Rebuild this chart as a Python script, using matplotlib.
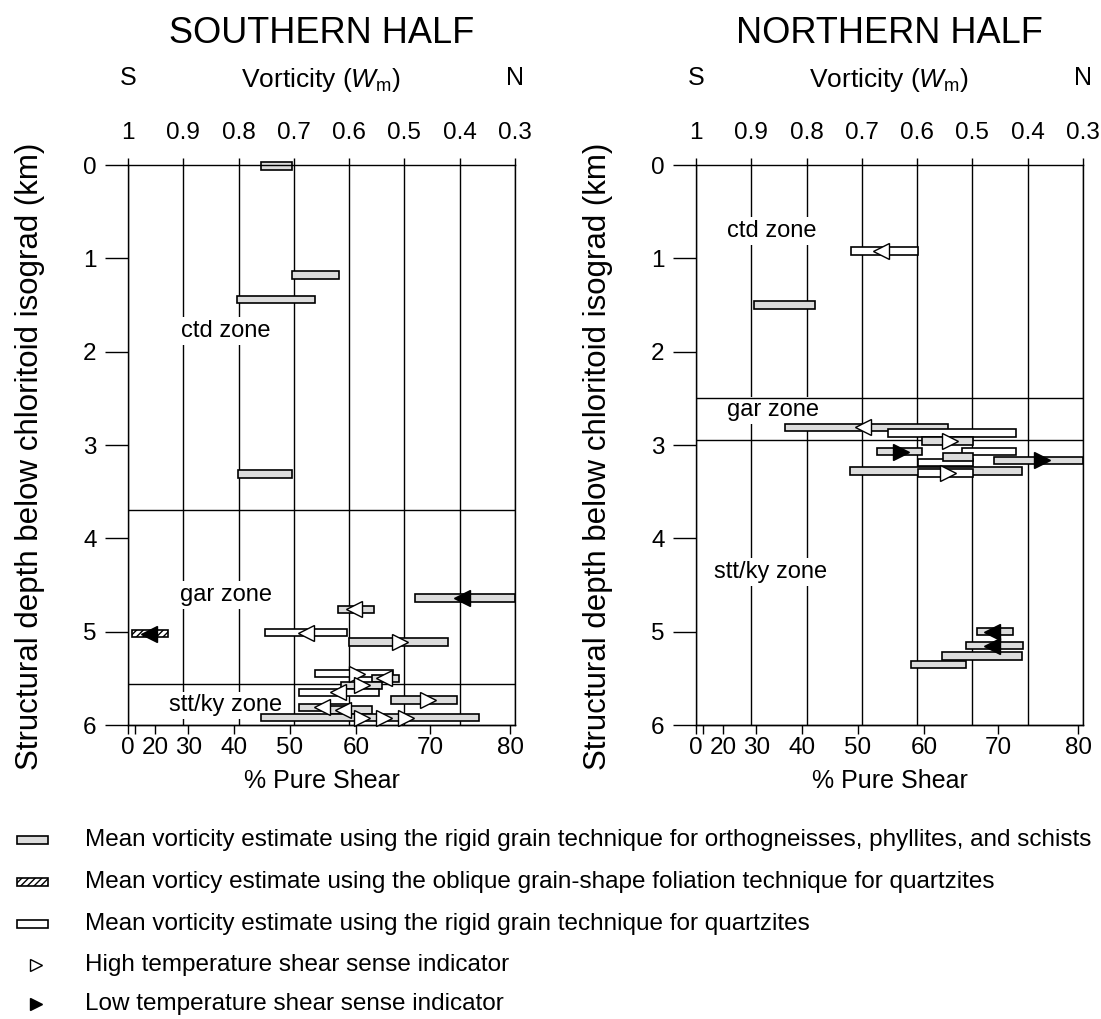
import matplotlib
matplotlib.use('Agg')
import matplotlib.pyplot as plt
import numpy as np

plt.rcParams['font.family'] = ['Liberation Sans', 'DejaVu Sans']
plt.rcParams['mathtext.fontset'] = 'custom'
plt.rcParams['mathtext.rm'] = 'Liberation Sans'
plt.rcParams['mathtext.it'] = 'Liberation Sans:italic'
plt.rcParams['hatch.linewidth'] = 1.0

# axis ticks
wm_ticks = [1, 0.9, 0.8, 0.7, 0.6, 0.5, 0.4, 0.3]
wm_labels = ['1', '0.9', '0.8', '0.7', '0.6', '0.5', '0.4', '0.3']
ps_ticks = [0, 10, 20, 30, 40, 50, 60, 70, 80]
ps_labels = ['0', '', '20', '30', '40', '50', '60', '70', '80']
depth_ticks = [0, 1, 2, 3, 4, 5, 6]

# southern half: bars (Wm range, depth km, kind g=grey h=hatched w=white)
s_wm_a = [0.760, 0.703, 0.802, 0.801, 0.481, 0.621, 0.993, 0.752, 0.600,
          0.662, 0.559, 0.615, 0.691, 0.524, 0.691, 0.638, 0.759]
s_wm_b = [0.703, 0.619, 0.662, 0.703, 0.300, 0.555, 0.927, 0.603, 0.422,
          0.520, 0.510, 0.540, 0.546, 0.405, 0.598, 0.559, 0.365]
s_depth = [0.01, 1.18, 1.44, 3.31, 4.64, 4.76, 5.02, 5.01, 5.11,
           5.45, 5.50, 5.575, 5.65, 5.73, 5.81, 5.84, 5.92]
s_kind = ['g', 'g', 'g', 'g', 'g', 'g', 'h', 'w', 'g',
          'w', 'g', 'g', 'w', 'g', 'g', 'g', 'g']
# southern half: shear sense arrows
sa_wm = [0.395, 0.591, 0.962, 0.678, 0.5075, 0.585, 0.5375, 0.576, 0.621,
         0.458, 0.649, 0.612, 0.576, 0.537, 0.4975]
sa_depth = [4.64, 4.76, 5.02, 5.01, 5.11, 5.45, 5.50, 5.575, 5.65,
            5.73, 5.81, 5.84, 5.92, 5.92, 5.92]
sa_dir = ['<', '<', '<', '<', '>', '>', '<', '>', '<', '>', '<', '<', '>', '>', '>']
sa_fill = ['k', 'w', 'k', 'w', 'w', 'w', 'w', 'w', 'w', 'w', 'w', 'w', 'w', 'w', 'w']
s_bounds = [3.7, 5.56]
s_zones = ['ctd zone', 'gar zone', 'stt/ky zone']
s_zone_wm = [0.823, 0.822, 0.823]
s_zone_depth = [1.78, 4.61, 5.79]

# northern half
n_wm_a = [0.719, 0.895, 0.839, 0.653, 0.592, 0.673, 0.519, 0.599, 0.553,
          0.461, 0.721, 0.599, 0.492, 0.512, 0.5545, 0.612]
n_wm_b = [0.599, 0.784, 0.545, 0.421, 0.4995, 0.592, 0.421, 0.4995, 0.4995,
          0.300, 0.411, 0.4995, 0.426, 0.409, 0.411, 0.512]
n_depth = [0.92, 1.50, 2.81, 2.87, 2.955, 3.07, 3.07, 3.19, 3.13,
           3.165, 3.28, 3.30, 5.00, 5.15, 5.26, 5.35]
n_kind = ['w', 'g', 'g', 'w', 'g', 'g', 'w', 'w', 'g',
          'g', 'g', 'w', 'g', 'g', 'g', 'g']
na_wm = [0.665, 0.698, 0.541, 0.629, 0.374, 0.545, 0.464, 0.464]
na_depth = [0.92, 2.81, 2.955, 3.075, 3.165, 3.30, 5.00, 5.15]
na_dir = ['<', '<', '>', '>', '>', '>', '<', '<']
na_fill = ['w', 'w', 'w', 'k', 'k', 'w', 'k', 'k']
n_bounds = [2.5, 2.95]
n_zones = ['ctd zone', 'gar zone', 'stt/ky zone']
n_zone_wm = [0.8625, 0.861, 0.866]
n_zone_depth = [0.71, 2.63, 4.36]

legend_labels = [
    'Mean vorticity estimate using the rigid grain technique for orthogneisses, phyllites, and schists',
    'Mean vorticy estimate using the oblique grain-shape foliation technique for quartzites',
    'Mean vorticity estimate using the rigid grain technique for quartzites',
    'High temperature shear sense indicator',
    'Low temperature shear sense indicator',
]

GREY = '#dcdcdc'


def wm_to_ps(w):
    return np.degrees(np.arccos(np.clip(w, -1, 1))) / 90 * 100


def ps_to_wm(p):
    return np.cos(np.radians(np.asarray(p, dtype=float) / 100 * 90))


def draw_panel(ax, title, wa, wb, dep, kind, aw, ad, adir, afill,
               bounds, zones, zw, zd):
    ax.set_xlim(1, 0.3)
    ax.set_ylim(6, 0)
    ax.set_axisbelow(True)
    ax.xaxis.tick_top()
    ax.set_xticks(wm_ticks, wm_labels)
    ax.set_yticks(depth_ticks)
    ax.xaxis.grid(True, color='k', lw=1.0)
    ax.tick_params(axis='x', length=5, width=1, pad=10, labelsize=17.5)
    ax.tick_params(axis='y', length=16.5, width=1, pad=6, labelsize=17.5)
    for s in ax.spines.values():
        s.set_linewidth(1.0)

    sec = ax.secondary_xaxis('bottom', functions=(wm_to_ps, ps_to_wm))
    sec.set_xticks(ps_ticks, ps_labels)
    sec.tick_params(length=6.5, width=1, pad=2.5, labelsize=17.5)
    sec.spines['bottom'].set_linewidth(1.0)
    sec.set_xlabel('% Pure Shear', fontsize=18, labelpad=7)

    ax.set_ylabel('Structural depth below chloritoid isograd (km)', fontsize=22.5)
    ax.yaxis.set_label_coords(-0.215, 0.48)

    for b in bounds:
        ax.axhline(b, color='k', lw=1.0, zorder=1)
    for name, x, y in zip(zones, zw, zd):
        ax.text(x, y, name, fontsize=17, ha='center', va='center', zorder=0.8,
                bbox=dict(boxstyle='square,pad=0.12', fc='white', ec='none'))

    for a, b, d, k in zip(wa, wb, dep, kind):
        ax.barh(d, abs(a - b), left=min(a, b), height=0.08,
                color='white' if k != 'g' else GREY, edgecolor='k',
                hatch='/////' if k == 'h' else None, lw=1.2,
                zorder=2, clip_on=False)
    for x, d, m, f in zip(aw, ad, adir, afill):
        ax.plot(x, d, marker=m, ms=11, mfc='k' if f == 'k' else 'white',
                mec='k', mew=1.0, ls='none', zorder=4, clip_on=False)

    ax.text(0.5, 1.235, title, transform=ax.transAxes, fontsize=26,
            ha='center', va='center')
    ax.text(0.5, 1.152, r'Vorticity ($W_{\mathrm{m}}$)', transform=ax.transAxes,
            fontsize=19, ha='center', va='center')
    ax.text(0.0, 1.155, 'S', transform=ax.transAxes, fontsize=18,
            ha='center', va='center')
    ax.text(1.0, 1.155, 'N', transform=ax.transAxes, fontsize=18,
            ha='center', va='center')


fig = plt.figure(figsize=(11.01, 10.19), dpi=100)
W, H = 1101, 1019
ax_s = fig.add_axes([128 / W, 1 - 725 / H, 387 / W, 560 / H])
ax_n = fig.add_axes([696 / W, 1 - 725 / H, 387 / W, 560 / H])

draw_panel(ax_s, 'SOUTHERN HALF', s_wm_a, s_wm_b, s_depth, s_kind,
           sa_wm, sa_depth, sa_dir, sa_fill, s_bounds, s_zones, s_zone_wm, s_zone_depth)
draw_panel(ax_n, 'NORTHERN HALF', n_wm_a, n_wm_b, n_depth, n_kind,
           na_wm, na_depth, na_dir, na_fill, n_bounds, n_zones, n_zone_wm, n_zone_depth)

# legend drawn in pixel coordinates at the bottom
lax = fig.add_axes([0, 0, 1, 1])
lax.set_xlim(0, W)
lax.set_ylim(H, 0)
lax.axis('off')
rows = [840, 882, 924, 965, 1004]
for i, (y, lab) in enumerate(zip(rows, legend_labels)):
    if i < 3:
        lax.add_patch(plt.Rectangle((17, y - 4), 31, 8,
                                    fc=GREY if i == 0 else 'white', ec='k', lw=1.2,
                                    hatch='/////' if i == 1 else None))
    else:
        lax.plot(36, y, marker='>', ms=9, mfc='white' if i == 3 else 'k',
                 mec='k', mew=1.0)
    lax.text(85, y, lab, fontsize=17.5, ha='left', va='center')

fig.savefig('out.png', dpi=100)
